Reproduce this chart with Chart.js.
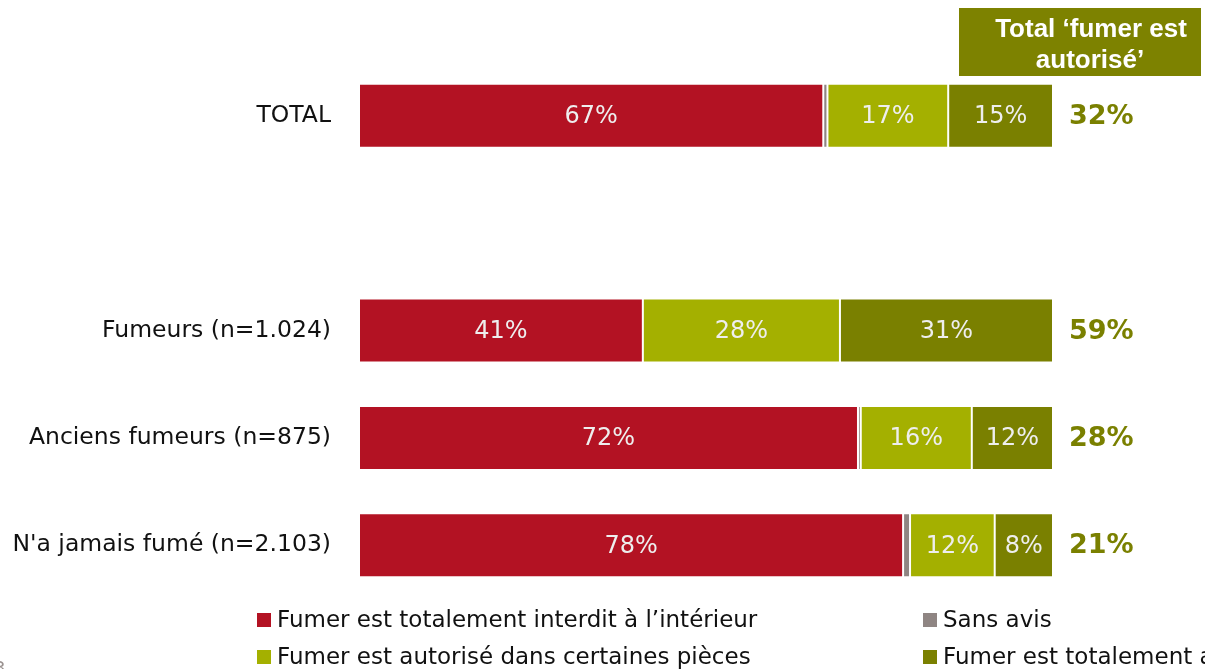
<!DOCTYPE html>
<html><head><meta charset="utf-8">
<script src="https://cdn.jsdelivr.net/npm/chart.js@4"></script>
<style>html,body{margin:0;padding:0;background:#fff;overflow:hidden}#wrap{position:relative;width:1205px;height:669px}</style>
</head><body><div id="wrap"><canvas id="c" width="1205" height="669"></canvas></div>
<script>
const categories = ['TOTAL', '', 'Fumeurs (n=1.024)', 'Anciens fumeurs (n=875)', "N'a jamais fumé (n=2.103)"];
const interdit   = [66.9, null, 40.9, 71.9, 78.4];
const sansAvis   = [0.6,  null, 0,    0.4,  1.0];
const certaines  = [17.4, null, 28.4, 16.0, 12.2];
const totalement = [15.1, null, 30.7, 11.7, 8.4];
const totalAutorise = ['32%', '', '59%', '28%', '21%'];
const seriesNames = [
  'Fumer est totalement interdit à l’intérieur',
  'Sans avis',
  'Fumer est autorisé dans certaines pièces',
  'Fumer est totalement autorisé à l’intérieur'
];
const seriesColors = ['#b31223', '#8f8583', '#a4b000', '#7a8000'];
const headerLines = ['Total ‘fumer est', 'autorisé’'];

const FONT = '"DejaVu Sans", sans-serif';

const overlay = {
  id: 'overlay',
  afterDatasetsDraw(chart) {
    const ctx = chart.ctx;
    ctx.save();
    // value labels inside bars
    ctx.font = '24px ' + FONT;
    ctx.fillStyle = '#eeeeee';
    ctx.textAlign = 'center';
    ctx.textBaseline = 'middle';
    chart.data.datasets.forEach((ds, di) => {
      const meta = chart.getDatasetMeta(di);
      meta.data.forEach((el, i) => {
        const v = ds.data[i];
        if (v == null || v < 5) return;
        ctx.fillText(Math.round(v) + '%', (el.x + el.base) / 2, el.y + 1);
      });
    });
    // totals on the right
    const ys = chart.scales.y;
    ctx.font = 'bold 27px ' + FONT;
    ctx.fillStyle = '#7a8000';
    ctx.textAlign = 'left';
    totalAutorise.forEach((t, i) => {
      if (!t) return;
      ctx.fillText(t, 1069, ys.getPixelForValue(i) + 1);
    });
    // header box
    ctx.fillStyle = '#7d8200';
    ctx.fillRect(959, 8, 242, 68);
    ctx.fillStyle = '#ffffff';
    ctx.font = 'bold 26px "Liberation Sans", Arial, sans-serif';
    ctx.textAlign = 'center';
    ctx.textBaseline = 'alphabetic';
    ctx.fillText(headerLines[0], 1091, 37);
    ctx.fillText(headerLines[1], 1090, 68);
    // legend
    const pos = [[257, 620], [923, 620], [257, 657], [923, 657]];
    ctx.font = '23px ' + FONT;
    ctx.textAlign = 'left';
    ctx.textBaseline = 'middle';
    chart.data.datasets.forEach((ds, di) => {
      const [x, y] = pos[di];
      ctx.fillStyle = ds.backgroundColor;
      ctx.fillRect(x, y - 7, 14, 14);
      ctx.fillStyle = '#111111';
      ctx.fillText(ds.label, x + 20, y + 1);
    });
    // page number (cut at left edge)
    ctx.fillStyle = '#9a9290';
    ctx.font = '18px ' + FONT;
    ctx.textBaseline = 'alphabetic';
    ctx.fillText('3', -6, 674);
    ctx.restore();
  }
};

const seriesData = [interdit, sansAvis, certaines, totalement];

new Chart(document.getElementById('c'), {
  type: 'bar',
  data: {
    labels: categories,
    datasets: seriesData.map((d, i) => ({
      label: seriesNames[i],
      data: d,
      backgroundColor: seriesColors[i],
      borderColor: 'rgba(255,255,255,0.18)',
      borderWidth: 1,
      borderSkipped: false,
      categoryPercentage: 0.596,
      barPercentage: 1
    }))
  },
  options: {
    indexAxis: 'y',
    responsive: false,
    animation: false,
    layout: { padding: { left: 0, right: 152, top: 62, bottom: 70 } },
    plugins: { legend: { display: false }, tooltip: { enabled: false } },
    scales: {
      x: { stacked: true, min: 0, max: 100, display: false },
      y: {
        stacked: true,
        grid: { display: false, drawTicks: false },
        border: { display: false },
        ticks: { font: { family: 'DejaVu Sans', size: 23.5 }, color: '#111111', padding: 28 },
        afterFit(s) { s.width = 359; }
      }
    }
  },
  plugins: [overlay]
});
</script>
</body></html>
